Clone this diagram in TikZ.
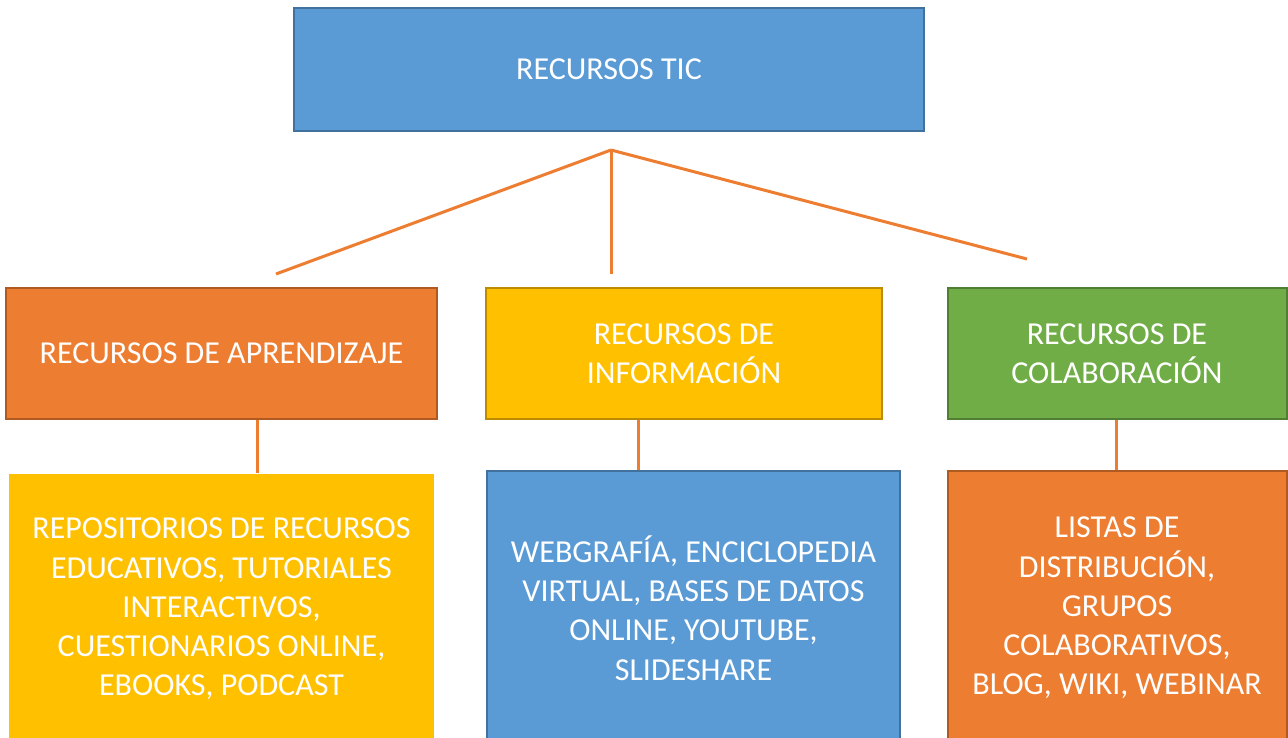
\documentclass[tikz,border=0pt]{standalone}
\usepackage{fontspec}
\setmainfont{Carlito}
\definecolor{cblue}{HTML}{5B9BD5}
\definecolor{cblueb}{HTML}{41719C}
\definecolor{corange}{HTML}{ED7D31}
\definecolor{coranged}{HTML}{AE5A21}
\definecolor{cyellow}{HTML}{FFC000}
\definecolor{cyellowd}{HTML}{BC8C00}
\definecolor{cgreen}{HTML}{70AD47}
\definecolor{cgreend}{HTML}{507E32}
\begin{document}
\begin{tikzpicture}[x=1pt,y=-1pt,
  box/.style={rectangle, line width=2pt, align=center, text=white, inner sep=0pt,
    font=\fontsize{32}{39.2}\selectfont},
  link/.style={corange, line width=3pt}]
\clip (0,0) rectangle (1288,737);
\useasboundingbox (0,0) rectangle (1288,737);
\node[box, fill=cblue, draw=cblueb, minimum width=630, minimum height=123] (top) at (609,69.5) {RECURSOS TIC};
\node[box, fill=corange, draw=coranged, minimum width=431, minimum height=131] (a) at (221.5,353.5) {RECURSOS DE APRENDIZAJE};
\node[box, fill=cyellow, draw=cyellowd, minimum width=396, minimum height=131] (b) at (684,353.5) {RECURSOS DE\\INFORMACIÓN};
\node[box, fill=cgreen, draw=cgreend, minimum width=339, minimum height=131] (c) at (1117,353.5) {RECURSOS DE\\COLABORACIÓN};
\node[box, fill=cyellow, minimum width=425, minimum height=270] (d) at (221.5,609) {REPOSITORIOS DE RECURSOS\\EDUCATIVOS, TUTORIALES\\INTERACTIVOS,\\CUESTIONARIOS ONLINE,\\EBOOKS, PODCAST};
\node[box, fill=cblue, draw=cblueb, minimum width=413, minimum height=274] (e) at (693.5,608) {WEBGRAFÍA, ENCICLOPEDIA\\VIRTUAL, BASES DE DATOS\\ONLINE, YOUTUBE,\\SLIDESHARE};
\node[box, fill=corange, draw=coranged, minimum width=339, minimum height=274] (f) at (1117,608) {LISTAS DE\\DISTRIBUCIÓN,\\GRUPOS\\COLABORATIVOS,\\BLOG, WIKI, WEBINAR};
\coordinate (apex) at (611,150);
\coordinate (la) at (276,274);
\coordinate (lb) at (611,274);
\coordinate (lc) at (1027,259);
\draw[link] (apex) -- (la);
\draw[link] (apex) -- (lb);
\draw[link] (apex) -- (lc);
\draw[link] (a.south -| 257,0) -- (d.north -| 257,0);
\draw[link] (b.south -| 638,0) -- (e.north -| 638,0);
\draw[link] (c.south -| 1116,0) -- (f.north -| 1116,0);
\end{tikzpicture}
\end{document}
